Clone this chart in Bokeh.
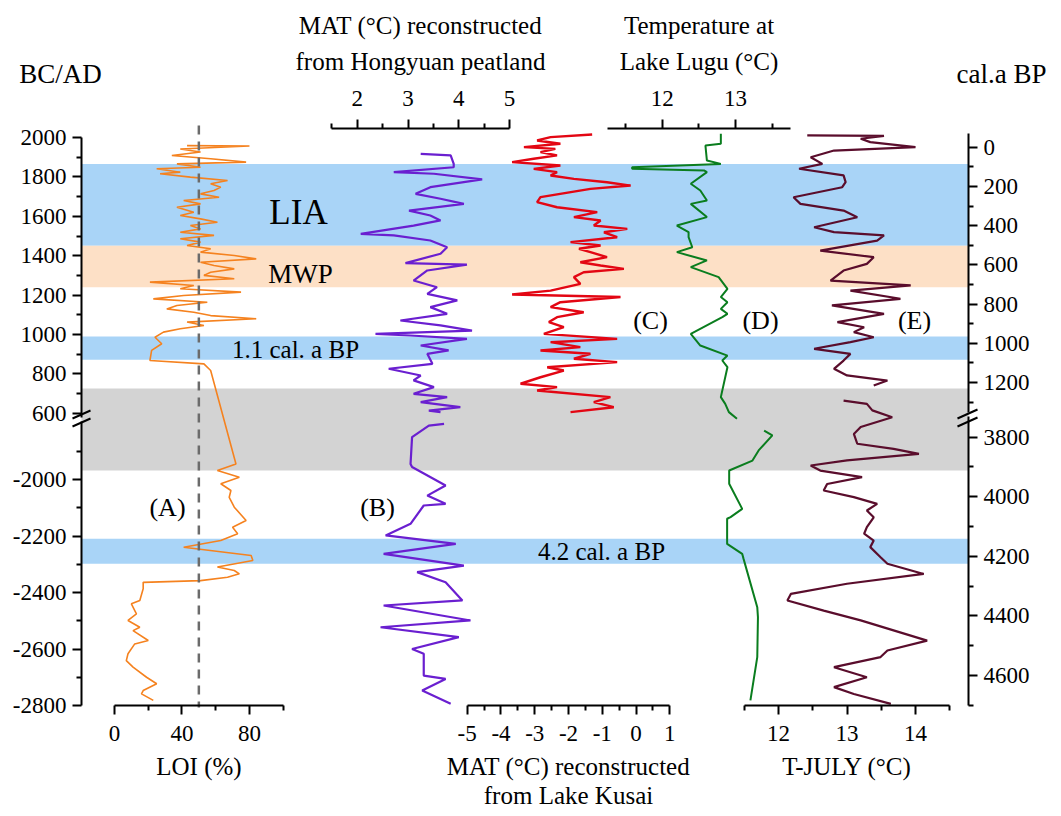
from bokeh.plotting import figure
from bokeh.models import Range1d, LinearAxis, FixedTicker, Label
from bokeh.embed import file_html
from bokeh.resources import INLINE

W, H = 1061, 816
SERIF = "Liberation Serif"

# ---------------- data ----------------
# (A) LOI (%) vs year (BC/AD)
a_year = [1959, 1957, 1942, 1926, 1909, 1892, 1875, 1866, 1849, 1841,
          1824, 1816, 1799, 1782, 1765, 1748, 1731, 1714, 1697, 1680,
          1663, 1646, 1621, 1604, 1587, 1570, 1553, 1536, 1519, 1503,
          1486, 1469, 1452, 1435, 1418, 1401, 1384, 1367, 1350, 1333,
          1316, 1300, 1283, 1266, 1249, 1232, 1215, 1198, 1181, 1164,
          1147, 1130, 1113, 1096, 1080, 1063, 1046, 1029, 1012, 986,
          953, 919, 868, 851, 817,
          -1945, -1968, -1992, -2015, -2039, -2063, -2098, -2145, -2169, -2192,
          -2216, -2240, -2269, -2287, -2310, -2322, -2334, -2346, -2358, -2364,
          -2387, -2428, -2440, -2476, -2499, -2523, -2535, -2570, -2582, -2617,
          -2641, -2664, -2700, -2723, -2747, -2759, -2782]
a_loi = [43, 80, 39, 51, 34, 57, 78, 37, 51, 25,
         39, 27, 45, 67, 57, 63, 59, 51, 62, 41,
         51, 37, 47, 39, 51, 61, 45, 51, 39, 59,
         39, 51, 43, 57, 51, 71, 84, 51, 59, 71,
         57, 53, 71, 21, 47, 39, 75, 41, 23, 55,
         37, 31, 47, 57, 84, 43, 53, 39, 29, 24,
         28, 22, 21, 53, 57,
         72, 61, 74, 63, 69, 68, 71, 78, 70, 73,
         63, 41, 81, 82, 61, 71, 74, 67, 51, 17,
         17, 15, 10, 13, 8, 15, 11, 20, 12, 8,
         7, 11, 19, 25, 17, 16, 23]
loi_mean = 50

# (B) MAT (°C) Hongyuan peatland
b_year_up = [1917, 1909, 1866, 1849, 1824, 1816, 1787, 1748, 1714, 1689,
             1663, 1629, 1604, 1579, 1553, 1511, 1503, 1477, 1443, 1410,
             1362, 1355, 1325, 1274, 1240, 1206, 1173, 1139, 1105, 1071,
             1046, 1020, 1003, 995, 978, 944, 919, 902, 851, 826,
             792, 767, 733, 699, 682, 657, 631, 614, 606]
b_val_up = [3.25, 3.84, 3.90, 3.90, 2.72, 3.51, 4.46, 3.44, 3.15, 3.64,
            4.10, 3.02, 3.44, 3.64, 3.11, 2.07, 2.72, 3.44, 3.77, 3.64,
            2.95, 4.16, 3.38, 3.11, 3.57, 3.38, 3.97, 3.44, 3.77, 2.85,
            3.64, 4.26, 2.36, 3.05, 4.16, 3.25, 3.80, 3.38, 3.48, 2.62,
            3.25, 3.11, 3.51, 3.11, 3.77, 3.25, 4.03, 3.41, 3.64]
b_year_lo = [-1803, -1809, -1850, -1945, -1956, -2021, -2057, -2086, -2092, -2157,
             -2198, -2228, -2263, -2305, -2328, -2364, -2428, -2446, -2499, -2523,
             -2558, -2600, -2617, -2694, -2706, -2747, -2794]
b_val_lo = [3.71, 3.41, 3.08, 3.05, 3.08, 3.74, 3.38, 3.74, 3.31, 3.05,
            2.56, 3.94, 2.52, 4.10, 3.18, 3.74, 4.07, 2.52, 4.23, 2.46,
            4.00, 3.08, 3.31, 3.31, 3.74, 3.28, 3.84]

# (C) MAT (°C) Lake Kusai
c_year = [2015, 2002, 1985, 1968, 1951, 1942, 1926, 1909, 1892, 1875,
          1858, 1841, 1824, 1807, 1790, 1773, 1756, 1739, 1697, 1672,
          1646, 1621, 1596, 1579, 1553, 1536, 1519, 1494, 1469, 1452,
          1435, 1418, 1393, 1367, 1350, 1333, 1316, 1291, 1257, 1223,
          1203, 1190, 1164, 1139, 1113, 1088, 1063, 1037, 1003, 978,
          961, 936, 919, 902, 877, 860, 834, 817, 783, 750,
          733, 716, 682, 657, 631, 606]
c_val = [-1.30, -2.53, -2.93, -2.24, -3.32, -2.39, -2.83, -2.34, -3.03, -3.67,
         -2.24, -3.03, -2.34, -2.53, -1.84, -0.86, -0.16, -1.35, -2.83, -2.93,
         -2.34, -1.15, -1.84, -1.05, -1.25, -0.26, -0.95, -0.56, -1.94, -1.05,
         -1.69, -1.35, -0.86, -1.65, -1.05, -0.36, -1.55, -1.84, -1.65, -2.53,
         -3.67, -0.46, -2.24, -2.53, -1.55, -2.34, -2.58, -2.14, -2.73, -0.56,
         -2.53, -1.65, -2.83, -1.35, -1.84, -0.56, -2.63, -2.14, -2.83, -3.42,
         -2.34, -2.93, -0.76, -1.25, -0.66, -1.94]

# (D) Temperature at Lake Lugu (°C)
d_year_up = [2019, 1968, 1959, 1883, 1866, 1849, 1841, 1833, 1824, 1765,
             1731, 1680, 1663, 1596, 1553, 1520, 1494, 1443, 1418, 1376,
             1342, 1291, 1232, 1190, 1164, 1130, 1105, 1088, 1003, 944,
             893, 868, 834, 682, 648, 606, 572]
d_val_up = [12.80, 12.80, 12.59, 12.61, 12.80, 11.59, 11.59, 12.57, 12.61, 12.39,
            12.52, 12.61, 12.39, 12.61, 12.20, 12.36, 12.36, 12.41, 12.20, 12.61,
            12.39, 12.77, 12.89, 12.80, 12.89, 12.80, 12.89, 12.82, 12.39, 12.52,
            12.89, 12.82, 12.89, 12.80, 12.86, 12.91, 13.02]
d_year_lo = [-1827, -1844, -1897, -1933, -1968, -2015, -2104, -2133, -2139, -2228,
             -2263, -2281, -2452, -2487, -2629, -2782]
d_val_lo = [11.79, 11.91, 11.71, 11.62, 11.28, 11.28, 11.47, 11.30, 11.25, 11.25,
            11.47, 11.49, 11.69, 11.70, 11.69, 11.59]

# (E) T-JULY (°C) vs cal. a BP
e_bp_up = [-60, -58, -43, -26, 0, 17, 51, 85, 110, 144,
           178, 204, 255, 289, 323, 357, 408, 433, 450, 476,
           527, 561, 595, 629, 680, 705, 731, 773, 807, 850,
           892, 918, 943, 969, 994, 1028, 1054, 1088, 1130, 1164,
           1190, 1215]
e_val_up = [12.42, 13.54, 13.20, 13.34, 14.00, 12.81, 12.47, 12.64, 12.30, 12.95,
            12.98, 12.93, 12.22, 12.32, 12.95, 13.15, 12.52, 12.81, 13.54, 13.44,
            12.61, 13.39, 13.29, 12.95, 12.76, 13.93, 13.05, 13.78, 12.78, 13.54,
            12.86, 13.25, 13.10, 13.39, 13.05, 12.52, 13.05, 12.95, 12.81, 13.00,
            13.59, 13.39]
e_bp_lo = [3677, 3688, 3710, 3733, 3766, 3789, 3822, 3839, 3856, 3878,
           3895, 3912, 3934, 3957, 3979, 4001, 4024, 4046, 4069, 4102,
           4124, 4147, 4169, 4203, 4225, 4259, 4292, 4326, 4348, 4382,
           4415, 4483, 4516, 4538, 4572, 4606, 4639, 4662, 4695]
e_val_lo = [12.95, 13.29, 13.37, 13.66, 13.20, 13.10, 13.15, 13.68, 14.05, 13.00,
            12.47, 12.61, 13.22, 12.71, 12.66, 13.10, 13.44, 13.29, 13.39, 13.29,
            13.25, 13.39, 13.34, 13.49, 13.59, 14.12, 13.00, 12.18, 12.13, 12.66,
            13.20, 14.17, 13.59, 13.49, 12.81, 13.29, 12.81, 13.10, 13.64]

# climate periods (years BC/AD)
blue_top = [1866, 990, -2210]
blue_bottom = [1450, 872, -2298]
mwp_top, mwp_bottom = 1450, 1240
gray_top, gray_bottom = 726, -1968

left_ticks_up = [600, 800, 1000, 1200, 1400, 1600, 1800, 2000]
left_ticks_lo = [-2800, -2600, -2400, -2200, -2000]
right_ticks_up = [0, 200, 400, 600, 800, 1000, 1200]
right_ticks_lo = [3800, 4000, 4200, 4400, 4600]
kusai_ticks = [-5, -4, -3, -2, -1, 0, 1]

# ---------------- geometry of the broken time axis ----------------
AD_UP = (2000, 137.0, -0.197)   # (value, pixel, pixels per unit)
AD_LO = (-2000, 479.0, -0.2825)
BP_UP = (0, 146.7, 0.1961)
BP_LO = (3800, 436.7, 0.2979)


def to_pix(v, m):
    v0, p0, k = m
    return p0 + (v - v0) * k


def to_val(pix, m):
    v0, p0, k = m
    return v0 + (pix - p0) / k


def y_ad(yr):
    return to_pix(yr, AD_UP if yr >= 0 else AD_LO)


p = figure(width=W, height=H, x_range=Range1d(0, W), y_range=Range1d(H, 0),
           x_axis_location=None, y_axis_location=None, toolbar_location=None,
           output_backend="svg", min_border=0, outline_line_color=None,
           background_fill_color="white")
p.grid.visible = False

XMAPS = {
    "loi": (0, 114.0, 1.687),
    "hong": (2, 356.7, 50.8),
    "kusai": (-5, 466.7, 33.77),
    "lugu": (12, 661.7, 73.3),
    "tjuly": (12, 778.0, 68.5),
}
for name, m in XMAPS.items():
    p.extra_x_ranges[name] = Range1d(start=to_val(0, m), end=to_val(W, m))
for name, m in {"ad_up": AD_UP, "ad_lo": AD_LO, "bp_up": BP_UP, "bp_lo": BP_LO}.items():
    p.extra_y_ranges[name] = Range1d(start=to_val(H, m), end=to_val(0, m))

# ---------------- bands ----------------
XL, XR = 81, 968
p.quad(left=XL, right=XR, top=y_ad(gray_top), bottom=y_ad(gray_bottom),
       fill_color="#d3d3d3", line_color=None)
p.quad(left=XL, right=XR, top=[y_ad(v) for v in blue_top],
       bottom=[y_ad(v) for v in blue_bottom], fill_color="#a9d4f7", line_color=None)
p.quad(left=XL, right=XR, top=y_ad(mwp_top), bottom=y_ad(mwp_bottom),
       fill_color="#fde0c6", line_color=None)

# ---------------- series ----------------
p.line(a_loi, [y_ad(v) for v in a_year], x_range_name="loi",
       line_color="#f5821f", line_width=1.6)
p.segment(x0=[loi_mean], x1=[loi_mean], y0=[125], y1=[707], x_range_name="loi",
          line_color="#6b6b6b", line_width=2.5, line_dash="9 7")
p.line(b_val_up, b_year_up, x_range_name="hong", y_range_name="ad_up",
       line_color="#6a1fd0", line_width=2.2)
p.line(b_val_lo, b_year_lo, x_range_name="hong", y_range_name="ad_lo",
       line_color="#6a1fd0", line_width=2.2)
p.line(c_val, c_year, x_range_name="kusai", y_range_name="ad_up",
       line_color="#e30613", line_width=2.4)
p.line(d_val_up, d_year_up, x_range_name="lugu", y_range_name="ad_up",
       line_color="#0a7d1e", line_width=2.0)
p.line(d_val_lo, d_year_lo, x_range_name="tjuly", y_range_name="ad_lo",
       line_color="#0a7d1e", line_width=2.0)
p.line(e_val_up, e_bp_up, x_range_name="tjuly", y_range_name="bp_up",
       line_color="#5a0d2c", line_width=2.2)
p.line(e_val_lo, e_bp_lo, x_range_name="tjuly", y_range_name="bp_lo",
       line_color="#5a0d2c", line_width=2.2)


# ---------------- axes ----------------
def style(ax, tick_standoff=6, label_standoff=10, line_height=1.3):
    ax.axis_line_width = 2
    ax.axis_line_color = "black"
    ax.major_tick_line_width = 2
    ax.minor_tick_line_width = 2
    ax.major_tick_in = 0
    ax.major_tick_out = 9
    ax.minor_tick_in = 0
    ax.minor_tick_out = 5
    ax.major_label_text_font = SERIF
    ax.major_label_text_font_size = "23px"
    ax.major_label_text_color = "black"
    ax.major_label_standoff = tick_standoff
    ax.axis_label_text_font = SERIF
    ax.axis_label_text_font_size = "25px"
    ax.axis_label_text_font_style = "normal"
    ax.axis_label_text_color = "black"
    ax.axis_label_text_line_height = line_height
    ax.axis_label_standoff = label_standoff
    return ax


def hyphen_labels(ticks):
    return {t: str(t) for t in ticks if t < 0}


def y_axis(rname, side, xloc, bounds, ticks, minor):
    ax = LinearAxis(y_range_name=rname, fixed_location=xloc, bounds=bounds,
                    ticker=FixedTicker(ticks=ticks, minor_ticks=minor),
                    major_label_overrides=hyphen_labels(ticks))
    p.add_layout(style(ax), side)


def x_axis(rname, side, yloc, bounds, ticks, minor, label, **kw):
    ax = LinearAxis(x_range_name=rname, fixed_location=yloc, bounds=bounds,
                    ticker=FixedTicker(ticks=ticks, minor_ticks=minor), axis_label=label,
                    major_label_overrides=hyphen_labels(ticks))
    p.add_layout(style(ax, **kw), side)


y_axis("ad_up", "left", XL, (579, 2000), left_ticks_up, [700, 900, 1100, 1300, 1500, 1700, 1900])
y_axis("ad_lo", "left", XL, (-2800, -1795), left_ticks_lo, [-1900, -2100, -2300, -2500, -2700])
y_axis("bp_up", "right", XR, (-70, 1353), right_ticks_up, [100, 300, 500, 700, 900, 1100, 1300])
y_axis("bp_lo", "right", XR, (3731, 4700), right_ticks_lo, [3900, 4100, 4300, 4500, 4700])

TOP = dict(tick_standoff=14, label_standoff=13, line_height=1.3)
BOT = dict(tick_standoff=11, label_standoff=9, line_height=1.1)
x_axis("hong", "above", 128, (1.5, 5), [2, 3, 4, 5], [1.5, 2.5, 3.5, 4.5],
       "MAT (°C) reconstructed\nfrom Hongyuan peatland", **TOP)
x_axis("lugu", "above", 128, (11.25, 13.75), [12, 13], [11.5, 12.5, 13.5],
       "Temperature at\nLake Lugu (°C)", **TOP)
x_axis("loi", "below", 705, (0, 100), [0, 40, 80], [20, 60, 100], "LOI (%)", **BOT)
x_axis("kusai", "below", 705, (-5, 1), kusai_ticks,
       [-4.5, -3.5, -2.5, -1.5, -0.5, 0.5], "MAT (°C) reconstructed\nfrom Lake Kusai", **BOT)
x_axis("tjuly", "below", 705, (11.5, 14.5), [12, 13, 14], [11.5, 12.5, 13.5, 14.5],
       "T-JULY (°C)", **BOT)

# axis break marks
p.segment(x0=[72, 72, 957, 957], y0=[418, 426, 418, 426],
          x1=[90, 90, 977, 977], y1=[410, 418, 409, 417],
          line_color="black", line_width=2, level="overlay")


# ---------------- texts ----------------
def txt(x, y, s, size, align="center"):
    p.add_layout(Label(x=x, y=y, text=s, text_font=SERIF, text_font_size=size,
                       text_align=align, text_baseline="middle", text_color="black"))


txt(60, 73, "BC/AD", "27px")
txt(1001, 73, "cal.a BP", "27px")
txt(298, 212, "LIA", "35px")
txt(300, 273, "MWP", "27px")
txt(295, 349, "1.1 cal. a BP", "25px")
txt(601, 551, "4.2 cal. a BP", "25px")
txt(167, 507, "(A)", "26px")
txt(377, 507, "(B)", "26px")
txt(650, 320, "(C)", "26px")
txt(760, 320, "(D)", "26px")
txt(914, 320, "(E)", "26px")

open("out.html", "w").write(file_html(p, INLINE))
